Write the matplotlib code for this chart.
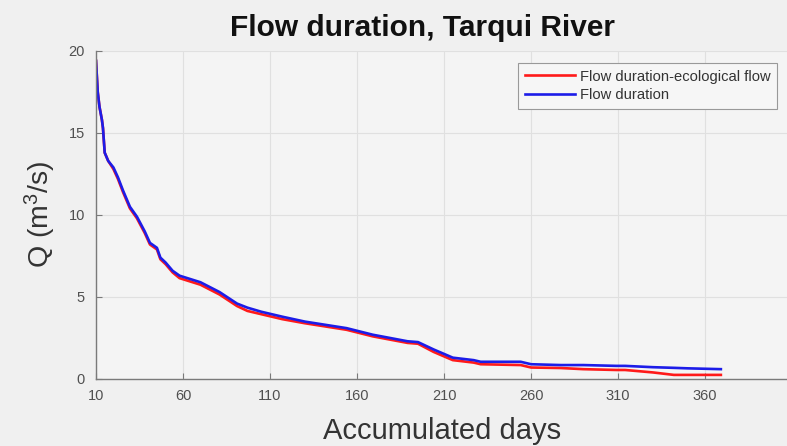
import matplotlib
matplotlib.use("Agg")
import matplotlib.pyplot as plt

days = [10, 11, 12, 13.4, 14, 15, 17, 20, 22.6, 25.5, 29.5, 33.5, 38, 41, 45, 47,
        50, 54, 58, 70, 81, 91, 97, 105, 117, 130, 154, 169, 189, 195, 204, 215,
        227, 231, 254, 260, 277, 290, 309, 314, 330, 342, 350, 369]
q_flow = [19.4, 17.5, 16.6, 15.8, 15.3, 13.8, 13.3, 12.9, 12.3, 11.5, 10.5, 9.9, 9.0, 8.3, 8.0, 7.4,
          7.1, 6.6, 6.3, 5.9, 5.3, 4.6, 4.35, 4.1, 3.8, 3.5, 3.1, 2.7, 2.3, 2.25, 1.8, 1.3,
          1.15, 1.05, 1.05, 0.9, 0.85, 0.85, 0.8, 0.8, 0.72, 0.68, 0.65, 0.6]
q_eco = [19.4, 17.5, 16.6, 15.8, 15.3, 13.8, 13.3, 12.8, 12.2, 11.4, 10.4, 9.8, 8.9, 8.2, 7.9, 7.3,
         7.0, 6.5, 6.15, 5.75, 5.15, 4.45, 4.15, 3.95, 3.65, 3.4, 3.0, 2.6, 2.2, 2.15, 1.65, 1.15,
         1.0, 0.9, 0.85, 0.7, 0.67, 0.6, 0.55, 0.55, 0.4, 0.25, 0.25, 0.25]

xticks = [10, 60, 110, 160, 210, 260, 310, 360]
yticks = [0, 5, 10, 15, 20]

plt.rcParams['font.family'] = ['Liberation Sans', 'DejaVu Sans']
plt.rcParams['mathtext.fontset'] = 'custom'
plt.rcParams['mathtext.rm'] = 'Liberation Sans'
plt.rcParams['mathtext.it'] = 'Liberation Sans:italic'

fig = plt.figure(figsize=(7.87, 4.46), dpi=100, facecolor='#f0f0f0')
ax = fig.add_axes([96/787, 1-379/446, 1-96/787, (379-51)/446])
ax.set_facecolor('#f4f4f4')

ax.plot(days, q_eco, color='#ff1a1a', lw=1.9, label='Flow duration-ecological flow')
ax.plot(days, q_flow, color='#1c1ce8', lw=1.9, label='Flow duration')

ax.set_xlim(10, 407)
ax.set_ylim(0, 20)
ax.set_xticks(xticks)
ax.set_yticks(yticks)
ax.grid(True, color='#e0e0e0', lw=0.8)
ax.set_axisbelow(True)
for s in ['top', 'right']:
    ax.spines[s].set_visible(False)
for s in ['left', 'bottom']:
    ax.spines[s].set_color('#7a7a7a')
    ax.spines[s].set_linewidth(1.0)
ax.tick_params(direction='in', length=4, colors='#7a7a7a', labelcolor='#505050',
               labelsize=10.5)
ax.tick_params(axis='x', pad=7)
ax.tick_params(axis='y', pad=8)

fig.text(422/787, 1-28/446, 'Flow duration, Tarqui River', ha='center', va='center',
         fontsize=21.5, fontweight='bold', color='#111111')
fig.text(442/787, 1-431/446, 'Accumulated days', ha='center', va='center',
         fontsize=21, color='#333333')
fig.text(40/787, 1-214/446, r'Q (m$^3$/s)', ha='center', va='center', rotation=90,
         fontsize=20.5, color='#333333')

leg = ax.legend(loc='upper right', bbox_to_anchor=(777/787, 1-63/446),
                bbox_transform=fig.transFigure, fontsize=10.6, frameon=True,
                fancybox=False, edgecolor='#999999', facecolor='#f6f6f6',
                framealpha=1, handlelength=3.4, handletextpad=0.35,
                borderpad=0.45, labelspacing=0.3, borderaxespad=0)
leg.get_frame().set_linewidth(0.8)
for t in leg.get_texts():
    t.set_color('#333333')

fig.savefig('out.png', dpi=100, facecolor=fig.get_facecolor())
